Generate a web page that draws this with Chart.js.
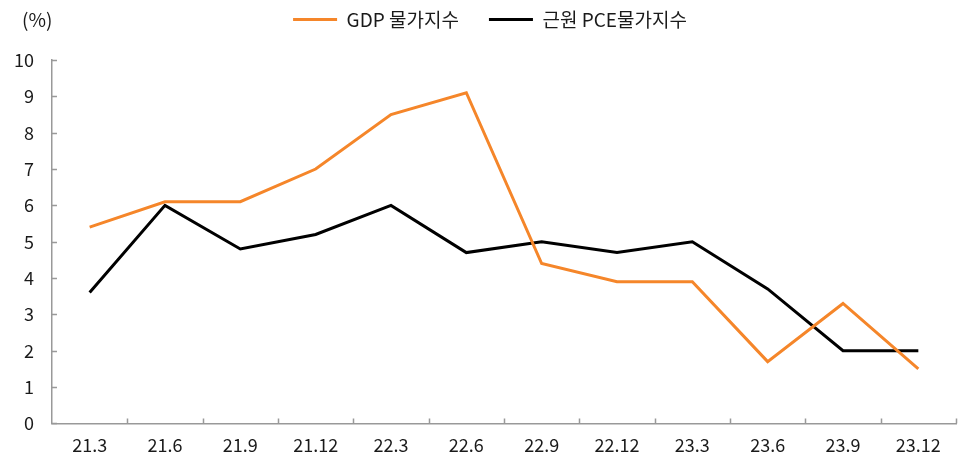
<!DOCTYPE html>
<html>
<head>
<meta charset="utf-8">
<script src="https://cdn.jsdelivr.net/npm/chart.js@4/dist/chart.umd.min.js"></script>
<style>
  html, body { margin: 0; padding: 0; background: #fff; }
  #wrap { width: 962px; height: 459px; }
</style>
</head>
<body>
<div id="wrap"><canvas id="myChart"></canvas></div>
<script>
'use strict';

let labels = ['21.3', '21.6', '21.9', '21.12', '22.3', '22.6', '22.9', '22.12', '23.3', '23.6', '23.9', '23.12'];
let gdpDeflator = [5.4, 6.1, 6.1, 7.0, 8.5, 9.1, 4.4, 3.9, 3.9, 1.7, 3.3, 1.5];
let corePce = [3.6, 6.0, 4.8, 5.2, 6.0, 4.7, 5.0, 4.7, 5.0, 3.7, 2.0, 2.0];
let yTicks = [0, 1, 2, 3, 4, 5, 6, 7, 8, 9, 10];

const fontFamily = '"Noto Sans CJK KR", "Noto Sans", sans-serif';
const axisColor = '#999999';

// nudge the legend up and to the right without changing the plot area
const legendNudge = {
  id: 'legendNudge',
  afterLayout(chart) {
    let lg = chart.legend;
    lg.top -= 21;
    lg.bottom -= 21;
    lg.left += 14;
    lg.right += 14;
  }
};

// inward tick marks and the (%) unit label
const innerTicks = {
  id: 'innerTicks',
  afterDraw(chart) {
    let ctx = chart.ctx;
    let x = chart.scales.x;
    let y = chart.scales.y;
    ctx.save();
    ctx.strokeStyle = axisColor;
    ctx.lineWidth = 1.5;
    ctx.beginPath();
    for (let i = 0; i < yTicks.length; i++) {
      let py = Math.round(y.getPixelForValue(yTicks[i])) + 0.5;
      ctx.moveTo(x.left, py);
      ctx.lineTo(x.left + 5, py);
    }
    for (let i = 1; i <= labels.length; i++) {
      let px = Math.round(x.getPixelForValue(i - 0.5)) + 0.5;
      ctx.moveTo(px, y.bottom);
      ctx.lineTo(px, y.bottom - 5);
    }
    ctx.stroke();
    ctx.fillStyle = '#1a1a1a';
    ctx.font = '19px ' + fontFamily;
    ctx.textAlign = 'left';
    ctx.textBaseline = 'middle';
    ctx.fillText('(%)', 22, 20);
    ctx.restore();
  }
};

let ctx = document.getElementById('myChart').getContext('2d');
let myChart = new Chart(ctx, {
  type: 'line',
  data: {
    labels: labels,
    datasets: [{
      label: 'GDP 물가지수',
      data: gdpDeflator,
      borderColor: '#F5862A',
      backgroundColor: '#F5862A',
      borderWidth: 3,
      pointRadius: 0,
      tension: 0
    }, {
      label: '근원 PCE물가지수',
      data: corePce,
      borderColor: '#000000',
      backgroundColor: '#000000',
      borderWidth: 3,
      pointRadius: 0,
      tension: 0
    }]
  },
  options: {
    responsive: true,
    maintainAspectRatio: false,
    animation: false,
    layout: {
      padding: { left: -4, right: 6, top: 1, bottom: -8 }
    },
    plugins: {
      legend: {
        position: 'top',
        labels: {
          usePointStyle: true,
          pointStyle: 'line',
          pointStyleWidth: 44,
          boxHeight: 3,
          padding: 30,
          color: '#1a1a1a',
          font: { family: fontFamily, size: 19 }
        }
      },
      tooltip: { enabled: false }
    },
    scales: {
      x: {
        offset: true,
        grid: { display: false, drawTicks: false },
        border: { color: axisColor, width: 1.5 },
        ticks: {
          color: '#1a1a1a',
          padding: 11,
          maxRotation: 0,
          font: { family: fontFamily, size: 18 }
        }
      },
      y: {
        min: 0,
        max: 10,
        afterBuildTicks(scale) {
          scale.ticks = yTicks.map(v => ({ value: v }));
        },
        grid: { display: false, drawTicks: false },
        border: { color: axisColor, width: 1.5 },
        ticks: {
          color: '#1a1a1a',
          padding: 18,
          font: { family: fontFamily, size: 18 }
        }
      }
    }
  },
  plugins: [legendNudge, innerTicks]
});
</script>
</body>
</html>
